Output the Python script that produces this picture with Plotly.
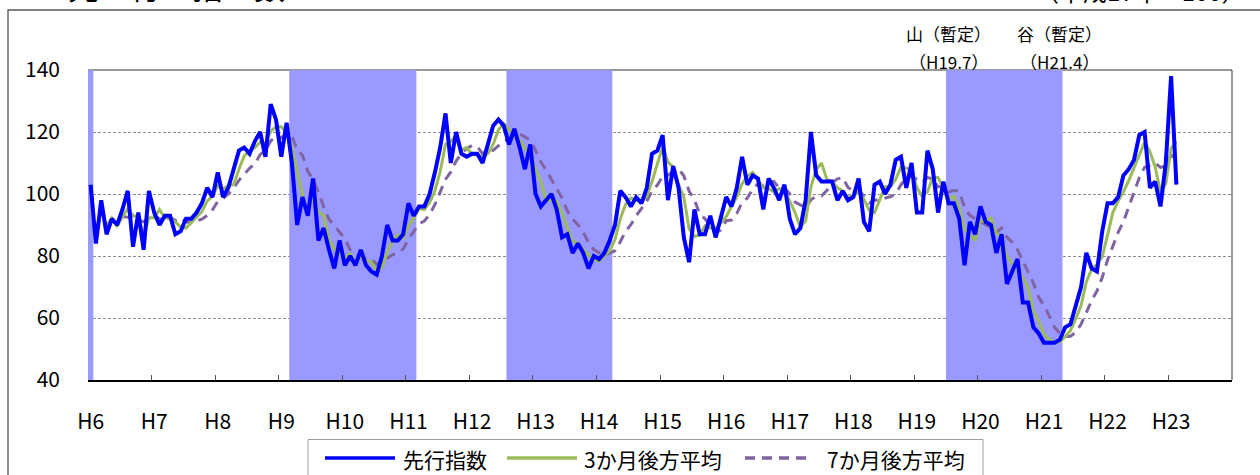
import plotly.graph_objects as go

# ---------------- data ----------------
year_labels = ["H6", "H7", "H8", "H9", "H10", "H11", "H12", "H13", "H14",
               "H15", "H16", "H17", "H18", "H19", "H20", "H21", "H22", "H23"]

# monthly leading index, H6.1 ... H23.2
leading_index = [
    103, 84, 98, 87, 92, 90, 95, 101, 83, 94, 82, 101,          # H6
    94, 90, 93, 93, 87, 88, 92, 92, 94, 97, 102, 99,            # H7
    107, 99, 102, 108, 114, 115, 113, 117, 120, 112, 129, 124,  # H8
    112, 123, 110, 90, 99, 93, 105, 85, 89, 82, 76, 85,         # H9
    77, 80, 77, 82, 77, 75, 74, 80, 90, 85, 85, 87,             # H10
    97, 93, 96, 96, 100, 107, 115, 126, 110, 120, 113, 112,     # H11
    113, 113, 110, 116, 122, 124, 122, 116, 121, 115, 108, 116, # H12
    100, 96, 98, 100, 95, 86, 87, 81, 84, 81, 76, 80,           # H13
    79, 81, 85, 90, 101, 99, 96, 99, 97, 102, 113, 114,         # H14
    119, 98, 109, 102, 86, 78, 95, 87, 87, 93, 86, 93,          # H15
    99, 96, 102, 112, 103, 106, 105, 95, 105, 102, 98, 103,     # H16
    92, 87, 89, 98, 120, 106, 104, 104, 104, 98, 101, 98,       # H17
    99, 105, 91, 88, 103, 104, 100, 103, 111, 112, 102, 110,    # H18
    94, 94, 114, 108, 94, 104, 97, 97, 92, 77, 91, 87,          # H19
    96, 91, 90, 81, 87, 71, 75, 79, 65, 65, 57, 55,             # H20
    52, 52, 52, 53, 57, 58, 64, 70, 81, 76, 75, 88,             # H21
    97, 97, 99, 106, 108, 111, 119, 120, 102, 104, 96, 110,     # H22
    138, 103,                                                   # H23
]

# 3-month backward average (green)
avg_3m = [
    None, 86.3, 95.0, 89.7, 92.3, 89.7, 92.3, 95.3, 93.0, 92.7, 86.3, 92.3,
    92.3, 95.0, 92.3, 92.0, 91.0, 89.3, 89.0, 90.7, 92.7, 94.3, 97.7, 99.3,
    102.7, 101.7, 102.7, 103.0, 108.0, 112.3, 114.0, 115.0, 116.7, 116.3, 120.3, 121.7,
    121.7, 119.7, 115.0, 107.7, 99.7, 94.0, 99.0, 94.3, 93.0, 85.3, 82.3, 81.0,
    79.3, 80.7, 78.0, 79.7, 78.7, 78.0, 75.3, 76.3, 81.3, 85.0, 86.7, 85.7,
    89.7, 92.3, 95.3, 95.0, 97.3, 101.0, 107.3, 116.0, 117.0, 118.7, 114.3, 115.0,
    112.7, 112.7, 112.0, 113.0, 116.0, 120.7, 122.7, 120.7, 119.7, 117.3, 114.7, 113.0,
    108.0, 104.0, 98.0, 98.0, 97.7, 93.7, 89.3, 84.7, 84.0, 82.0, 80.3, 79.0,
    78.3, 80.0, 81.7, 85.3, 92.0, 96.7, 98.7, 98.0, 97.3, 99.3, 104.0, 109.7,
    115.3, 110.3, 108.7, 103.0, 99.0, 88.7, 86.3, 86.7, 89.7, 89.0, 88.7, 90.7,
    92.7, 96.0, 99.0, 103.3, 105.7, 107.0, 104.7, 102.0, 101.7, 100.7, 101.7, 101.0,
    97.7, 94.0, 89.3, 91.3, 102.3, 108.0, 110.0, 104.7, 104.0, 102.0, 101.0, 99.0,
    99.3, 100.7, 98.3, 94.7, 94.0, 98.3, 102.3, 102.3, 104.7, 108.7, 108.3, 108.0,
    102.0, 99.3, 100.7, 105.3, 105.3, 102.0, 98.3, 99.3, 95.3, 88.7, 86.7, 85.0,
    91.3, 91.3, 92.3, 87.3, 86.0, 79.7, 77.7, 75.0, 73.0, 69.7, 62.3, 59.0,
    54.7, 53.0, 52.0, 52.3, 54.0, 56.0, 59.7, 64.0, 71.7, 75.7, 77.3, 79.7,
    86.7, 94.0, 97.7, 100.7, 104.3, 108.3, 112.7, 116.7, 113.7, 108.7, 100.7, 103.3,
    114.7, 117.0,
]

# 7-month backward average (purple, dashed)
avg_7m = [
    None, None, None, None, None, None, 92.7, 92.4, 92.3, 91.7, 91.0, 92.3,
    92.9, 92.1, 91.0, 92.4, 91.4, 92.3, 91.0, 90.7, 91.3, 91.9, 93.1, 94.9,
    97.6, 98.6, 100.0, 102.0, 104.4, 106.3, 108.3, 109.7, 112.7, 114.1, 117.1, 118.6,
    118.1, 119.6, 118.6, 114.3, 112.4, 107.3, 104.6, 100.7, 95.9, 91.9, 89.9, 87.9,
    85.6, 82.0, 80.9, 79.9, 79.1, 79.0, 77.4, 77.9, 79.3, 80.4, 80.9, 82.3,
    85.4, 88.1, 90.4, 91.3, 93.4, 96.6, 100.6, 104.7, 107.1, 110.6, 113.0, 114.7,
    115.6, 115.3, 113.0, 113.9, 114.1, 115.7, 117.1, 117.6, 118.7, 119.4, 118.3, 117.4,
    114.0, 110.3, 107.7, 104.7, 101.9, 98.7, 94.6, 91.9, 90.1, 87.7, 84.3, 82.1,
    81.1, 80.3, 80.9, 81.7, 84.6, 87.9, 90.1, 93.0, 95.3, 97.7, 101.0, 102.9,
    105.7, 106.0, 107.4, 108.1, 105.9, 100.9, 98.1, 93.6, 92.0, 89.7, 87.4, 88.4,
    91.4, 91.6, 93.7, 97.3, 98.7, 101.6, 103.3, 102.7, 104.0, 104.0, 102.0, 102.0,
    100.0, 97.4, 96.6, 95.6, 98.1, 99.3, 99.4, 101.1, 103.6, 104.9, 105.3, 102.1,
    101.1, 101.3, 99.4, 97.1, 97.9, 98.3, 98.6, 99.1, 100.0, 103.0, 105.0, 106.0,
    104.6, 103.7, 105.3, 104.9, 102.3, 102.6, 100.7, 101.1, 100.9, 95.6, 93.1, 92.1,
    91.0, 90.1, 89.1, 87.6, 89.0, 86.1, 84.4, 82.0, 78.3, 74.7, 71.3, 66.7,
    64.0, 60.7, 56.9, 55.1, 54.0, 54.1, 55.4, 58.0, 62.1, 65.6, 68.7, 73.1,
    78.7, 83.4, 87.6, 91.1, 95.7, 100.9, 105.3, 108.6, 109.3, 110.0, 108.6, 108.9,
    112.7, 110.4,
]

# shaded (recession) periods, (first month, last month) as (year, month)
shade_periods = [((6, 1), (6, 1)), ((9, 3), (11, 2)), ((12, 8), (14, 3)), ((19, 7), (21, 4))]

# turning-point notes: (label line 1, label line 2, (year, month))
turning_points = [("山（暫定）", "（H19.7）", (19, 7)), ("谷（暫定）", "（H21.4）", (21, 4))]

y_ticks = [40, 60, 80, 100, 120, 140]
series_names = ["先行指数", "3か月後方平均", "7か月後方平均"]

# ---------------- styles ----------------
FONT = "Noto Sans CJK JP"
BLUE, GREEN, PURPLE, SHADE = "#0000FF", "#9BBB59", "#8064A2", "#9999FF"
FIRST_YEAR = 6
N_MONTHS = 12 * len(year_labels)

W, H = 1260, 475
ML, MR, MT, MB = 88, 28, 70, 95
PW, PH = W - ML - MR, H - MT - MB


def idx(ym):
    return (ym[0] - FIRST_YEAR) * 12 + ym[1] - 1


def px_x(px):
    return (px - ML) / PW


def px_y(py):
    return (H - MB - py) / PH


x = list(range(len(leading_index)))

fig = go.Figure()
fig.add_trace(go.Scatter(x=x, y=avg_7m, mode="lines", name=series_names[2],
                         line=dict(color=PURPLE, width=3, dash="10px,7px")))
fig.add_trace(go.Scatter(x=x, y=avg_3m, mode="lines", name=series_names[1],
                         line=dict(color=GREEN, width=3)))
fig.add_trace(go.Scatter(x=x, y=leading_index, mode="lines", name=series_names[0],
                         line=dict(color=BLUE, width=4)))

shapes = []
# plot-area border (top and right) - drawn under the shading
shapes.append(dict(type="line", xref="paper", yref="paper", x0=0, x1=1, y0=1, y1=1,
                   line=dict(color="#333333", width=1), layer="between"))
shapes.append(dict(type="line", xref="paper", yref="paper", x0=1, x1=1, y0=0, y1=1,
                   line=dict(color="#333333", width=1), layer="between"))
for a, b in shade_periods:
    shapes.append(dict(type="rect", xref="x", yref="y",
                       x0=idx(a) - 0.5, x1=idx(b) + 0.5, y0=y_ticks[0], y1=y_ticks[-1],
                       fillcolor=SHADE, line=dict(width=0), layer="between"))

# outer chart frame
shapes.append(dict(type="rect", xref="paper", yref="paper",
                   x0=px_x(8), x1=px_x(1268), y0=px_y(485), y1=px_y(10),
                   line=dict(color="#555555", width=1.3), fillcolor="rgba(0,0,0,0)", layer="above"))
# legend box
shapes.append(dict(type="rect", xref="paper", yref="paper",
                   x0=px_x(308), x1=px_x(983), y0=px_y(485), y1=px_y(439.5),
                   line=dict(color="#A0A0A0", width=1), fillcolor="white", layer="above"))
leg_y = px_y(458)
legend_items = [(BLUE, None, 325, 395, 401), (GREEN, None, 507, 577, 582), (PURPLE, "10px,7px", 745, 808, 825)]
annotations = []
for (col, dash, lx0, lx1, tx), name in zip(legend_items, series_names):
    shapes.append(dict(type="line", xref="paper", yref="paper", x0=px_x(lx0), x1=px_x(lx1),
                       y0=leg_y, y1=leg_y, line=dict(color=col, width=3.5, dash=dash), layer="above"))
    annotations.append(dict(xref="paper", yref="paper", x=px_x(tx), y=px_y(459), text=name,
                            showarrow=False, xanchor="left", yanchor="middle",
                            font=dict(family=FONT, size=21, color="black")))

for l1, l2, ym in turning_points:
    annotations.append(dict(xref="x", yref="paper", x=idx(ym), y=px_y(34), text=l1, showarrow=False,
                            xanchor="center", yanchor="middle", font=dict(family=FONT, size=17, color="black")))
    annotations.append(dict(xref="x", yref="paper", x=idx(ym), y=px_y(62), text=l2, showarrow=False,
                            xanchor="center", yanchor="middle", font=dict(family=FONT, size=17, color="black")))

# partially visible titles at the very top
annotations.append(dict(xref="paper", yref="paper", x=px_x(66), y=px_y(10), text="先　行　指　数",
                        showarrow=False, xanchor="left", yanchor="bottom",
                        font=dict(family=FONT, size=31, color="black")))
annotations.append(dict(xref="paper", yref="paper", x=px_x(1248), y=px_y(10), text="（平成17年＝100）",
                        showarrow=False, xanchor="right", yanchor="bottom",
                        font=dict(family=FONT, size=24, color="black")))

fig.update_layout(
    width=W, height=H,
    margin=dict(l=ML, r=MR, t=MT, b=MB),
    plot_bgcolor="white", paper_bgcolor="white",
    showlegend=False,
    font=dict(family=FONT, color="black"),
    shapes=shapes, annotations=annotations,
    xaxis=dict(
        range=[-0.5, N_MONTHS - 0.5],
        tickmode="array", tickvals=[12 * k for k in range(len(year_labels))], ticktext=year_labels,
        ticks="", showgrid=False, zeroline=False,
        showline=True, linecolor="black", linewidth=1.5,
        tickfont=dict(family=FONT, size=21, color="black"), ticklabelstandoff=22,
        minor=dict(tickmode="array", tickvals=[12 * k - 0.5 for k in range(1, len(year_labels))],
                   ticks="inside", ticklen=5, tickwidth=1, tickcolor="#555555", showgrid=False),
    ),
    yaxis=dict(
        range=[y_ticks[0], y_ticks[-1]], tickmode="array", tickvals=y_ticks,
        ticks="", showgrid=True, gridcolor="#8C8C8C", gridwidth=1, griddash="3px,2px",
        zeroline=False, showline=False,
        tickfont=dict(family=FONT, size=21, color="black"), ticklabelstandoff=27,
    ),
)

fig.write_html("out.html", config={"displayModeBar": False},
               post_script="document.body.style.margin='0';document.body.style.overflow='hidden';")
